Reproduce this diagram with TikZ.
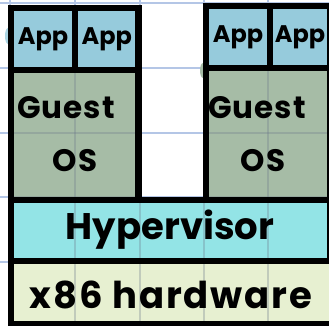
\documentclass[tikz,border=0pt]{standalone}
\usepackage{fontspec}
\setmainfont{Poppins}
\definecolor{appblue}{HTML}{96CBDC}
\definecolor{osgreen}{HTML}{A6BCA6}
\definecolor{hypcyan}{HTML}{93E4E6}
\definecolor{hwcream}{HTML}{E7F0D1}
\definecolor{gridblue}{HTML}{B4C6E6}
\begin{document}
\begin{tikzpicture}[x=1pt,y=-1pt,
  layer/.style={draw=black, line width=6.5pt, inner sep=0pt, outer sep=0pt},
  label/.style={text=black, inner sep=0pt},
  gridline/.style={draw=gridblue, line width=1.4pt}]
\useasboundingbox (0,0) rectangle (329,326);
\clip (0,0) rectangle (329,326);
\fill[white] (0,0) rectangle (329,326);

% squared paper behind the drawing
\foreach \gx in {10,75,140,204,268} \draw[gridline] (\gx,0) -- (\gx,326);
\foreach \gy in {3,68,133,197,262} \draw[gridline] (0,\gy) -- (329,\gy);

% stray colour marks
\fill[appblue!80!white] (8,44) arc (90:270:3 and 8) -- cycle;
\fill[osgreen] (203,78) arc (90:270:3 and 7.5) -- cycle;

% left virtual machine
\node[layer, fill=appblue, minimum width=64pt, minimum height=62pt] (appA) at (43,39) {};
\node[layer, fill=appblue, minimum width=63.5pt, minimum height=62pt] (appB) at (106.75,39) {};
\node[layer, fill=osgreen, minimum width=127.5pt, minimum height=130pt] (osL) at (74.75,135) {};

% right virtual machine
\node[layer, fill=appblue, minimum width=64pt, minimum height=62pt] (appC) at (238,37) {};
\node[layer, fill=appblue, minimum width=60pt, minimum height=62pt] (appD) at (300,37) {};
\node[layer, fill=osgreen, minimum width=124pt, minimum height=132pt] (osR) at (268,134) {};

% shared layers
\node[layer, fill=hwcream, minimum width=325pt, minimum height=63pt] (hw) at (173.5,292.5) {};
\node[layer, fill=hypcyan, minimum width=319pt, minimum height=61pt] (hyp) at (170.5,230.5) {};

% grid showing faintly through the coloured layers
\begin{scope}[opacity=0.3]
  \clip (14,11) rectangle (135,197) (209,9) rectangle (327,197) (14,203) rectangle (327,258) (14,264) rectangle (329,322);
  \foreach \gx in {10,75,140,204,268} \draw[gridline, draw=black!40!gridblue] (\gx,0) -- (\gx,326);
  \foreach \gy in {3,68,133,197,262} \draw[gridline, draw=black!40!gridblue] (0,\gy) -- (329,\gy);
\end{scope}

% redraw borders on top
\foreach \n in {appA,appB,osL,appC,appD,osR,hw,hyp}
  \draw[black, line width=6.5pt] (\n.north west) rectangle (\n.south east);

% labels
\tikzset{
  appfont/.style={font=\bfseries\fontsize{24}{24}\selectfont},
  osfont/.style={font=\bfseries\fontsize{31}{31}\selectfont\addfontfeature{LetterSpace=3}},
  bigfont/.style={font=\bfseries\fontsize{37}{37}\selectfont\addfontfeature{LetterSpace=5}}}
\node[label, appfont] (tA) at (appA.center) {App};
\node[label, appfont] (tB) at (appB.center) {App};
\node[label, appfont] (tC) at (appC.center) {App};
\node[label, appfont] (tD) at (appD.center) {App};
\node[label, osfont] (gL) at (66,108) {Guest};
\node[label, osfont] (oL) at (75,161) {OS};
\node[label, osfont] (gR) at (257,108) {Guest};
\node[label, osfont] (oR) at (263,161) {OS};
\node[label, font=\bfseries\fontsize{37}{37}\selectfont] (tH) at (170,230) {Hypervisor};
\node[label, bigfont] (tW) at (171,295) {x86 hardware};
\end{tikzpicture}
\end{document}
